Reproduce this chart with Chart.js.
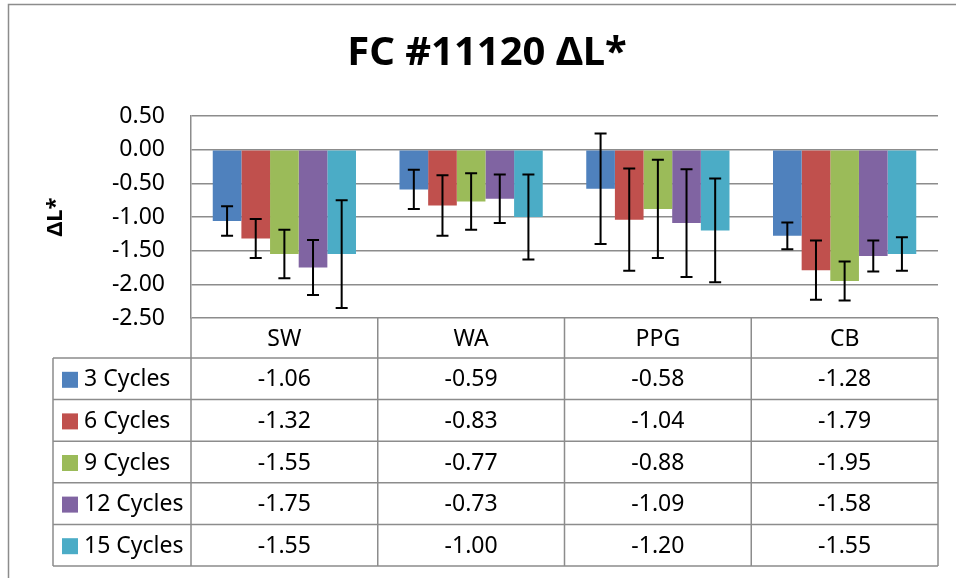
<!DOCTYPE html>
<html><head><meta charset="utf-8">
<script src="https://cdn.jsdelivr.net/npm/chart.js@4"></script>
<style>html,body{margin:0;padding:0;background:#fff}canvas{display:block}</style>
</head><body>
<canvas id="c" width="956" height="578"></canvas>
<script>
const categories = ['SW', 'WA', 'PPG', 'CB'];
const seriesNames = ['3 Cycles', '6 Cycles', '9 Cycles', '12 Cycles', '15 Cycles'];
const cycles3  = [-1.06, -0.59, -0.58, -1.28];
const cycles6  = [-1.32, -0.83, -1.04, -1.79];
const cycles9  = [-1.55, -0.77, -0.88, -1.95];
const cycles12 = [-1.75, -0.73, -1.09, -1.58];
const cycles15 = [-1.55, -1.00, -1.20, -1.55];
const err3  = [0.22, 0.29, 0.82, 0.20];
const err6  = [0.29, 0.45, 0.76, 0.44];
const err9  = [0.36, 0.42, 0.73, 0.29];
const err12 = [0.41, 0.36, 0.80, 0.23];
const err15 = [0.80, 0.63, 0.77, 0.25];
const yTickValues = [0.5, 0, -0.5, -1, -1.5, -2, -2.5];
const titleText = 'FC #11120 ΔL*';
const yTitleText = 'ΔL*';

const seriesValues = [cycles3, cycles6, cycles9, cycles12, cycles15];
const seriesErrors = [err3, err6, err9, err12, err15];
const colors = ['#4F81BD', '#C0504D', '#9BBB59', '#8064A2', '#4BACC6'];
const FONT = 'Noto Sans';
const GRID = '#8c8c8c';

const borderPlugin = {
  id: 'outerBorder',
  beforeDraw(chart) {
    const ctx = chart.ctx;
    ctx.save();
    ctx.fillStyle = '#fff';
    ctx.fillRect(0, 0, chart.width, chart.height);
    ctx.strokeStyle = GRID;
    ctx.lineWidth = 1.5;
    ctx.strokeRect(8.5, 4.5, 1000, 1000);
    ctx.restore();
  }
};

const errorBarPlugin = {
  id: 'errorBars',
  afterDatasetsDraw(chart) {
    const ctx = chart.ctx;
    const y = chart.scales.y;
    ctx.save();
    ctx.strokeStyle = '#000';
    ctx.lineWidth = 2;
    chart.data.datasets.forEach((ds, di) => {
      const meta = chart.getDatasetMeta(di);
      meta.data.forEach((bar, i) => {
        const v = ds.data[i], e = seriesErrors[di][i];
        const yt = y.getPixelForValue(v + e), yb = y.getPixelForValue(v - e);
        const x = bar.x;
        ctx.beginPath();
        ctx.moveTo(x, yt); ctx.lineTo(x, yb);
        ctx.moveTo(x - 6, yt); ctx.lineTo(x + 6, yt);
        ctx.moveTo(x - 6, yb); ctx.lineTo(x + 6, yb);
        ctx.stroke();
      });
    });
    ctx.restore();
  }
};

const tablePlugin = {
  id: 'dataTable',
  afterDraw(chart) {
    const ctx = chart.ctx;
    const area = chart.chartArea;
    const x = chart.scales.x;
    const half = (x.getPixelForValue(1) - x.getPixelForValue(0)) / 2;
    const edges = categories.map((c, i) => x.getPixelForValue(i) - half);
    edges.push(x.getPixelForValue(categories.length - 1) + half);
    const top = area.bottom;
    const headerH = 40;
    const rowH = 41.6;
    const legendLeft = 53;
    const bodyTop = top + headerH;
    const bottom = bodyTop + rowH * seriesNames.length;

    ctx.save();
    ctx.strokeStyle = GRID;
    ctx.lineWidth = 1.5;
    ctx.beginPath();
    ctx.moveTo(edges[0], bodyTop); ctx.lineTo(edges[edges.length - 1], bodyTop);
    for (let r = 0; r <= seriesNames.length; r++) {
      const yy = bodyTop + r * rowH;
      ctx.moveTo(legendLeft, yy); ctx.lineTo(edges[edges.length - 1], yy);
    }
    edges.forEach(ex => { ctx.moveTo(ex, top); ctx.lineTo(ex, bottom); });
    ctx.moveTo(legendLeft, bodyTop); ctx.lineTo(legendLeft, bottom);
    ctx.stroke();

    ctx.fillStyle = '#000';
    ctx.font = '23px "' + FONT + '"';
    ctx.textBaseline = 'middle';
    ctx.textAlign = 'center';
    categories.forEach((c, i) => {
      ctx.fillText(c, x.getPixelForValue(i), top + headerH / 2 + 1);
    });
    seriesNames.forEach((name, r) => {
      const cy = bodyTop + r * rowH + rowH / 2 + 1;
      ctx.fillStyle = colors[r];
      ctx.fillRect(62, cy - 8, 16, 16);
      ctx.fillStyle = '#000';
      ctx.textAlign = 'left';
      ctx.fillText(name, 84, cy);
      ctx.textAlign = 'center';
      seriesValues[r].forEach((v, i) => {
        ctx.fillText(v.toFixed(2), x.getPixelForValue(i), cy);
      });
    });
    ctx.restore();
  }
};

new Chart(document.getElementById('c'), {
  type: 'bar',
  data: {
    labels: categories,
    datasets: seriesNames.map((n, i) => ({
      label: n,
      data: seriesValues[i],
      backgroundColor: colors[i],
      borderWidth: 0,
      categoryPercentage: 0.767,
      barPercentage: 1.0
    }))
  },
  options: {
    responsive: false,
    animation: false,
    devicePixelRatio: 1,
    layout: { padding: { left: 36, right: 18, top: 0, bottom: 260 } },
    plugins: {
      legend: { display: false },
      tooltip: { enabled: false },
      title: {
        display: true,
        text: titleText,
        color: '#000',
        font: { family: FONT, size: 40, weight: 'bold' },
        padding: { top: 30, bottom: 38 }
      }
    },
    scales: {
      x: { display: false },
      y: {
        min: -2.5, max: 0.5,
        afterBuildTicks(scale) { scale.ticks = yTickValues.map(v => ({ value: v })); },
        afterFit(scale) { scale.width = 155; },
        border: { display: true, color: GRID, width: 1.5 },
        grid: { color: GRID, lineWidth: 1.5, drawTicks: false },
        ticks: {
          padding: 26,
          color: '#000',
          font: { family: FONT, size: 23 },
          callback: v => Number(v).toFixed(2)
        },
        title: {
          display: true,
          text: yTitleText,
          color: '#000',
          font: { family: FONT, size: 22, weight: 'bold' },
          padding: { top: 7, bottom: 0 }
        }
      }
    }
  },
  plugins: [borderPlugin, errorBarPlugin, tablePlugin]
});
</script>
</body></html>
